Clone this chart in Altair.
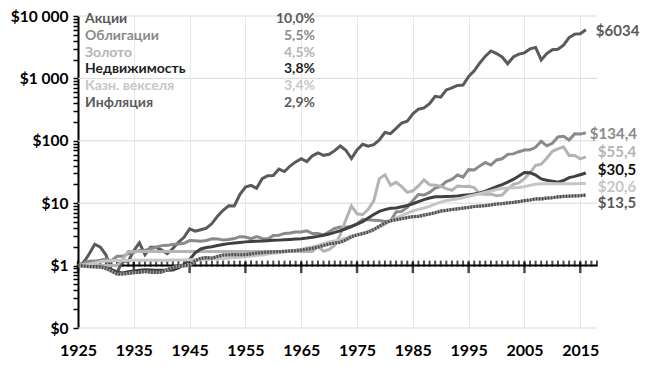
import altair as alt
import pandas as pd

FONT = "Lato"

years = list(range(1925, 2017))
series_names = ["Акции", "Облигации", "Золото", "Недвижимость", "Казн. векселя", "Инфляция"]
cagr_labels = ["10,0%", "5,5%", "4,5%", "3,8%", "3,4%", "2,9%"]
end_labels = ["$6034", "$134,4", "$55,4", "$30,5", "$20,6", "$13,5"]

stocks = [1.00, 1.12, 1.53, 2.20, 1.98, 1.49, 0.84, 0.77, 1.19, 1.17,
          1.73, 2.32, 1.50, 1.97, 1.96, 1.77, 1.56, 1.88, 2.37, 2.84,
          3.87, 3.56, 3.76, 3.97, 4.72, 6.21, 7.70, 9.11, 9.02, 13.8,
          18.1, 19.3, 17.3, 24.7, 27.6, 27.8, 35.2, 32.2, 39.4, 45.9,
          51.6, 46.4, 57.5, 63.9, 58.5, 60.8, 69.5, 82.7, 70.5, 51.8,
          71.1, 88.0, 81.7, 87.0, 103, 136, 130, 158, 193, 206,
          270, 321, 337, 393, 517, 501, 653, 703, 773, 783,
          1077, 1325, 1767, 2271, 2750, 2500, 2203, 1716, 2208, 2448,
          2568, 2973, 3137, 1976, 2499, 2875, 2936, 3406, 4508, 5125,
          5196, 6034]
bonds = [1.00, 1.08, 1.17, 1.18, 1.22, 1.27, 1.20, 1.41, 1.41, 1.55,
         1.63, 1.75, 1.76, 1.86, 1.97, 2.09, 2.11, 2.17, 2.22, 2.28,
         2.52, 2.51, 2.45, 2.53, 2.69, 2.68, 2.58, 2.62, 2.71, 2.91,
         2.87, 2.71, 2.91, 2.73, 2.67, 3.04, 3.07, 3.28, 3.32, 3.44,
         3.47, 3.60, 3.27, 3.26, 3.10, 3.48, 3.94, 4.16, 4.11, 4.29,
         4.68, 5.46, 5.42, 5.35, 5.29, 5.08, 5.17, 7.25, 7.39, 8.53,
         11.1, 13.8, 13.5, 14.9, 17.5, 18.6, 22.2, 24.0, 28.4, 26.2,
         34.5, 34.1, 39.6, 44.8, 40.9, 49.4, 51.6, 60.6, 61.7, 66.9,
         71.0, 71.7, 78.7, 98.2, 83.1, 91.0, 115, 118, 103, 129,
         128, 134.4]
gold = [1.00, 1.00, 1.00, 1.00, 1.00, 1.00, 1.00, 1.00, 1.25, 1.69,
        1.69, 1.69, 1.69, 1.69, 1.69, 1.69, 1.69, 1.69, 1.69, 1.69,
        1.69, 1.69, 1.69, 1.69, 1.69, 1.69, 1.69, 1.69, 1.69, 1.69,
        1.69, 1.69, 1.69, 1.69, 1.69, 1.69, 1.69, 1.69, 1.69, 1.69,
        1.69, 1.69, 1.69, 2.03, 1.70, 1.81, 2.11, 3.14, 5.42, 9.05,
        6.77, 6.53, 7.98, 10.9, 24.8, 28.5, 19.4, 21.7, 18.5, 14.9,
        15.8, 18.9, 23.6, 19.8, 19.4, 18.7, 17.1, 16.1, 18.9, 18.5,
        18.7, 17.8, 14.0, 13.9, 14.0, 13.2, 13.5, 16.8, 20.1, 21.2,
        24.8, 30.6, 40.3, 42.1, 52.6, 68.0, 74.1, 80.2, 58.3, 58.0,
        51.3, 55.4]
real_estate = [1.00, 0.99, 0.98, 0.97, 0.96, 0.92, 0.86, 0.79, 0.76, 0.80,
               0.82, 0.84, 0.86, 0.85, 0.84, 0.84, 0.84, 0.85, 0.92, 1.05,
               1.25, 1.60, 1.85, 1.95, 2.00, 2.10, 2.18, 2.25, 2.30, 2.35,
               2.40, 2.43, 2.46, 2.48, 2.51, 2.54, 2.56, 2.59, 2.62, 2.66,
               2.70, 2.76, 2.84, 2.94, 3.07, 3.20, 3.40, 3.62, 3.90, 4.20,
               4.60, 5.05, 5.80, 6.60, 7.40, 7.90, 8.30, 8.40, 8.80, 9.20,
               9.80, 10.6, 11.4, 12.1, 12.7, 12.7, 12.8, 12.9, 13.1, 13.4,
               13.6, 14.0, 14.6, 15.6, 16.9, 18.5, 19.9, 21.8, 24.0, 27.3,
               31.0, 30.8, 28.2, 24.5, 23.4, 22.6, 21.7, 23.1, 25.7, 26.9,
               28.6, 30.5]
tbills = [1.000, 1.033, 1.065, 1.103, 1.155, 1.183, 1.196, 1.207, 1.210, 1.212,
          1.214, 1.216, 1.219, 1.219, 1.219, 1.219, 1.220, 1.224, 1.228, 1.232,
          1.236, 1.240, 1.246, 1.256, 1.270, 1.285, 1.304, 1.326, 1.350, 1.362,
          1.383, 1.418, 1.462, 1.485, 1.530, 1.571, 1.604, 1.648, 1.700, 1.760,
          1.830, 1.916, 1.997, 2.101, 2.239, 2.385, 2.490, 2.585, 2.764, 2.986,
          3.159, 3.319, 3.489, 3.740, 4.128, 4.592, 5.267, 5.822, 6.335, 6.959,
          7.496, 7.958, 8.393, 8.926, 9.673, 10.43, 11.01, 11.40, 11.74, 12.20,
          12.89, 13.54, 14.25, 14.94, 15.65, 16.56, 17.20, 17.48, 17.65, 17.87,
          18.43, 19.30, 20.18, 20.48, 20.51, 20.54, 20.55, 20.57, 20.58, 20.59,
          20.60, 20.60]
inflation = [1.000, 0.985, 0.964, 0.955, 0.957, 0.899, 0.814, 0.730, 0.734, 0.749,
             0.771, 0.780, 0.804, 0.782, 0.778, 0.786, 0.862, 0.942, 0.971, 0.992,
             1.015, 1.199, 1.307, 1.343, 1.318, 1.395, 1.477, 1.490, 1.499, 1.492,
             1.497, 1.540, 1.586, 1.615, 1.639, 1.663, 1.674, 1.695, 1.723, 1.743,
             1.777, 1.836, 1.892, 1.981, 2.102, 2.218, 2.292, 2.371, 2.579, 2.894,
             3.097, 3.246, 3.466, 3.778, 4.281, 4.812, 5.242, 5.445, 5.652, 5.875,
             6.097, 6.166, 6.438, 6.722, 7.034, 7.464, 7.693, 7.916, 8.133, 8.351,
             8.563, 8.847, 9.002, 9.145, 9.390, 9.707, 9.857, 10.09, 10.28, 10.62,
             10.98, 11.26, 11.71, 11.72, 12.05, 12.24, 12.60, 12.82, 13.00, 13.09,
             13.19, 13.50]

decade_years = [1925, 1935, 1945, 1955, 1965, 1975, 1985, 1995, 2005, 2015]
axis_tick_years = list(range(1925, 2019))
grid_levels = [0.1, 10, 100, 1000, 10000]
y_ticks = [0.1, 0.2, 0.3, 0.4, 0.5, 0.6, 0.7, 0.8, 0.9,
           1, 2, 3, 4, 5, 6, 7, 8, 9,
           10, 20, 30, 40, 50, 60, 70, 80, 90,
           100, 200, 300, 400, 500, 600, 700, 800, 900,
           1000, 2000, 3000, 4000, 5000, 6000, 7000, 8000, 9000, 10000]

line_colors = ["#5a5a5a", "#8a8a8a", "#b4b4b4", "#404040", "#c6c6c6", "#7a7a7a"]
legend_colors = ["#5a5a5a", "#8a8a8a", "#b4b4b4", "#1e1e1e", "#c6c6c6", "#5a5a5a"]
end_colors = ["#5a5a5a", "#8a8a8a", "#b4b4b4", "#111111", "#c6c6c6", "#5a5a5a"]
end_dx = [10, 4, 12, 12, 12, 12]
end_dy = [1, 1, -5, -3, 3, 8]

all_values = [stocks, bonds, gold, real_estate, tbills, inflation]
rows = []
for name, vals in zip(series_names, all_values):
    for yr, v in zip(years, vals):
        rows.append({"series": name, "year": yr, "value": v})
df = pd.DataFrame(rows)

xscale = alt.Scale(domain=[1925, 2018], nice=False, zero=False)
yscale = alt.Scale(type="log", domain=[0.1, 10000], nice=False)
xaxis = alt.Axis(values=decade_years, format="d", title=None, labelFont=FONT,
                 labelFontSize=16, labelFontWeight="bold", labelColor="black",
                 ticks=False, domain=False, grid=True, gridColor="#e8e8e8",
                 gridWidth=1, labelPadding=14, labelFlush=False)
label_expr = ("datum.value == 10000 ? '$10 000' : datum.value == 1000 ? '$1 000' : "
              "datum.value == 100 ? '$100' : datum.value == 10 ? '$10' : "
              "datum.value == 1 ? '$1' : abs(datum.value - 0.1) < 1e-9 ? '$0' : ''")
yaxis = alt.Axis(values=y_ticks, labelExpr=label_expr, title=None, labelFont=FONT,
                 labelFontSize=15.5, labelFontWeight="bold", labelColor="black",
                 tickSize=5, tickColor="black", tickWidth=1.5, domain=True,
                 domainColor="black", domainWidth=2, grid=False, labelPadding=5,
                 labelOverlap=False)


def X(field="year"):
    return alt.X(f"{field}:Q", scale=xscale, axis=xaxis)


def Y(field="value"):
    return alt.Y(f"{field}:Q", scale=yscale, axis=yaxis)


hgrid = alt.Chart(pd.DataFrame({"level": grid_levels})).mark_rule(
    color="#d9d9d9", strokeWidth=1).encode(y=Y("level"))

one_df = pd.DataFrame({"level": [1]})
base_axis = alt.Chart(one_df).mark_rule(color="black", strokeWidth=2).encode(y=Y("level"))

tick_df = pd.DataFrame({"year": axis_tick_years, "level": [1] * len(axis_tick_years)})
minor_ticks = alt.Chart(tick_df).mark_tick(
    orient="vertical", size=6, thickness=2, color="black", yOffset=-2
).encode(x=X(), y=Y("level"))
major_df = pd.DataFrame({"year": decade_years, "level": [1] * len(decade_years)})
major_ticks = alt.Chart(major_df).mark_tick(
    orient="vertical", size=11, thickness=2.5, color="black", yOffset=2
).encode(x=X(), y=Y("level"))

layers = [hgrid, base_axis, minor_ticks, major_ticks]

for i, name in enumerate(series_names):
    sub = alt.Chart(df).transform_filter(alt.datum.series == name)
    if name == "Инфляция":
        layers.append(sub.mark_line(color="#9a9a9a", strokeWidth=3.2).encode(x=X(), y=Y()))
        layers.append(sub.mark_line(color="#4a4a4a", strokeWidth=3.2,
                                    strokeDash=[1.5, 1.5]).encode(x=X(), y=Y()))
    else:
        layers.append(sub.mark_line(color=line_colors[i], strokeWidth=3).encode(x=X(), y=Y()))

for i, name in enumerate(series_names):
    end_df = pd.DataFrame({"year": [years[-1]], "value": [all_values[i][-1]],
                           "label": [end_labels[i]]})
    layers.append(alt.Chart(end_df).mark_text(
        align="left", baseline="middle", dx=end_dx[i], dy=end_dy[i], font=FONT,
        fontSize=15, fontWeight="bold", color=end_colors[i]
    ).encode(x=X(), y=Y(), text="label:N"))

main = alt.layer(*layers)

leg_df = pd.DataFrame({"name": series_names, "pct": cagr_labels,
                       "row": list(range(len(series_names)))})
leg_y = alt.Y("row:O", scale=alt.Scale(range=[3, 87], padding=0), axis=None)
leg_color = alt.Color("name:N", scale=alt.Scale(domain=series_names, range=legend_colors),
                      legend=None)
leg_names = alt.Chart(leg_df).mark_text(
    align="left", baseline="middle", font=FONT, fontSize=14, fontWeight="bold"
).encode(x=alt.value(7), y=leg_y, color=leg_color, text="name:N")
leg_pct = alt.Chart(leg_df).mark_text(
    align="right", baseline="middle", font=FONT, fontSize=14, fontWeight="bold"
).encode(x=alt.value(237), y=leg_y, color=leg_color, text="pct:N")
legend = alt.layer(leg_names, leg_pct)

chart = alt.layer(main, legend).resolve_scale(y="independent").properties(
    width=519, height=312,
    padding={"left": 70, "top": 8, "right": 45, "bottom": 30},
    autosize=alt.AutoSizeParams(type="none"),
    background="white",
).configure_view(stroke=None)

chart.save("out.html", embed_options={"renderer": "svg", "actions": False})
